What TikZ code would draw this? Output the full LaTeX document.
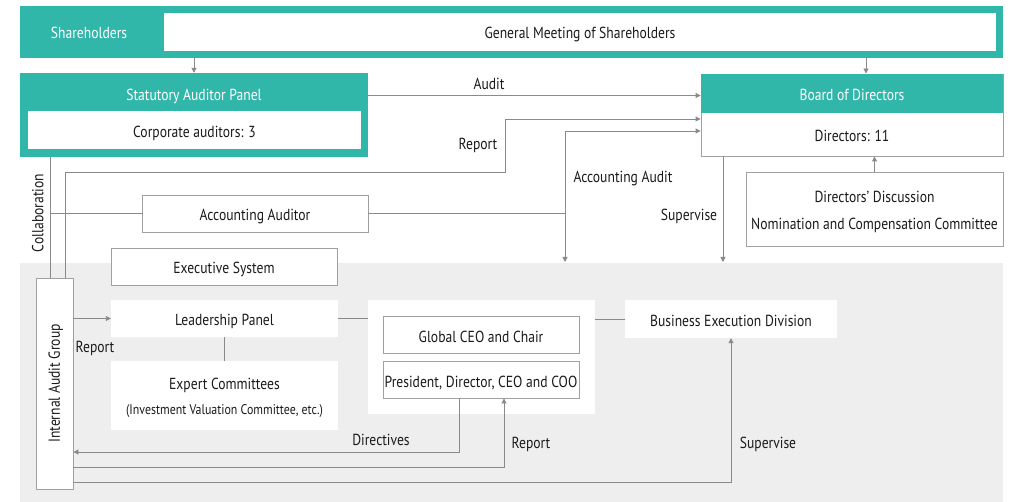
\documentclass[tikz,border=0pt]{standalone}
\usepackage{fontspec}
\setmainfont{PT Sans}[FakeStretch=0.85]
\usetikzlibrary{arrows.meta,calc}
\definecolor{teal1}{HTML}{31B7AA}
\definecolor{lgray}{HTML}{EEEEEE}
\definecolor{lcol}{HTML}{8A8A8A}
\definecolor{bcol}{HTML}{A0A0A0}
\definecolor{tcol}{HTML}{1A1A1A}
\begin{document}
\begin{tikzpicture}[x=1pt,y=-1pt,
  every node/.style={font=\fontsize{16}{18}\selectfont, text=tcol, text height=10.5pt, text depth=0pt},
  tealbox/.style={fill=teal1, draw=none, inner sep=0pt},
  wbox/.style={fill=white, draw=none, inner sep=0pt, align=center, text height=15pt},
  gbox/.style={fill=white, draw=bcol, line width=0.9pt, inner sep=0pt, align=center, text height=15pt},
  conn/.style={draw=lcol, line width=0.9pt},
  arr/.style={conn, -{Triangle[length=5pt,width=5pt]}},
  arrb/.style={conn, {Triangle[length=5pt,width=5pt]}-{Triangle[length=5pt,width=5pt]}},
  lbl/.style={inner sep=0pt},
  wlbl/.style={inner sep=0pt, text=white}
]
\useasboundingbox (0,0) rectangle (1011,502);
\fill[white] (0,0) rectangle (1011,502);
% grey background region
\fill[lgray] (20,263) rectangle (1003,502);

% top band
\node[tealbox, minimum width=983pt, minimum height=52pt] (shband) at (511.5,32) {};
\node[wlbl] (shtxt) at (89,33.5) {Shareholders};
\node[wbox, minimum width=832pt, minimum height=38pt, text height=12.5pt] (gms) at (580,32) {General Meeting of Shareholders};

% statutory auditor panel
\node[tealbox, minimum width=348pt, minimum height=84pt] (sap) at (194,115) {};
\node[wlbl] (saptxt) at (194,95.5) {Statutory Auditor Panel};
\node[wbox, minimum width=333pt, minimum height=38pt] (corp) at (194.5,130) {Corporate auditors: 3};

% board of directors
\node[gbox, minimum width=302pt, minimum height=82pt] (bod) at (852,115) {};
\node[tealbox, minimum width=302pt, minimum height=39pt] (bodhead) at (852,93.5) {};
\node[wlbl] (bodtxt) at (852,95.5) {Board of Directors};
\node[lbl] (dirtxt) at (852,136.5) {Directors: 11};

% directors discussion
\node[gbox, minimum width=257pt, minimum height=74pt] (dd) at (874.5,209) {};
\node[lbl] (ddtxt1) at (874.5,197.5) {Directors' Discussion};
\node[lbl] (ddtxt2) at (874.5,224.5) {Nomination and Compensation Committee};

% accounting auditor
\node[gbox, minimum width=226pt, minimum height=37pt] (acc) at (255,213.5) {Accounting Auditor};

% executive system
\node[gbox, minimum width=226pt, minimum height=37pt] (exe) at (224,266.5) {Executive System};

% internal audit group
\node[gbox, minimum width=37pt, minimum height=211pt] (iag) at (54.5,383.5) {};
\node[lbl, rotate=90] (iagtxt) at (54.5,383.5) {Internal Audit Group};

% leadership and expert
\node[wbox, minimum width=227pt, minimum height=37pt] (lead) at (224.5,318.5) {Leadership Panel};
\node[wbox, minimum width=227pt, minimum height=69pt] (exp) at (224.5,395.5) {};
\node[lbl] (exptxt1) at (224.5,384) {Expert Committees};
\node[lbl, font=\fontsize{14}{16}\selectfont, text height=9.5pt] (exptxt2) at (224.5,409.5) {(Investment Valuation Committee, etc.)};

% CEO group
\node[wbox, minimum width=227pt, minimum height=114pt] (ceo) at (481.5,357) {};
\node[gbox, minimum width=196pt, minimum height=37pt] (gceo) at (481,334.5) {Global CEO and Chair};
\node[gbox, minimum width=196pt, minimum height=37pt] (pres) at (481,379.5) {President, Director, CEO and COO};

% business execution
\node[wbox, minimum width=212pt, minimum height=38pt] (bus) at (731,319) {Business Execution Division};

% helper coordinates
\coordinate (col) at (50,0);
\coordinate (rbend) at (505,172);
\coordinate (aa) at (565,262);
\coordinate (sv) at (723,262);
\coordinate (d1) at (459,452);
\coordinate (r2) at (504,467);
\coordinate (s2) at (731,482);

% connectors
\draw[arr] (sap.north |- shband.south) -- (sap.north);
\draw[arr] ([xshift=14pt]bod.north |- shband.south) -- ([xshift=14pt]bod.north);
\draw[arr] (sap.east |- saptxt) -- (bod.west |- saptxt);
\draw[arr] ([xshift=10.5pt]iag.north) |- (rbend) |- ([yshift=-4pt]bod.west);
\draw[arrb] (aa) |- ([yshift=-16pt]bod.west);
\draw[conn] (acc.east) -- (acc.east -| aa);
\draw[conn] (sap.south -| col) -- (iag.north -| col);
\draw[conn] (acc.west) -- (acc.west -| col);
\draw[arr] (bod.south -| sv) -- (sv);
\draw[arr] (dd.north) -- (dd.north |- bod.south);
\draw[arr] (iag.east |- lead.west) -- (lead.west);
\draw[conn] (lead.south) -- (exp.north);
\draw[conn] (lead.east) -- (lead.east -| ceo.west);
\draw[conn] (ceo.east |- bus.west) -- (bus.west);
\draw[arr] (pres.south -| d1) |- (iag.east |- d1);
\draw[arr] (iag.east |- r2) -| (pres.south -| r2);
\draw[arr] (iag.east |- s2) -| (bus.south);

% labels
\node[lbl] (laudit) at (489,84) {Audit};
\node[lbl] (lrep1) at (478,144) {Report};
\node[lbl] (lacca) at (623,177) {Accounting Audit};
\node[lbl] (lsup1) at (689,215) {Supervise};
\node[lbl, rotate=90] (lcol) at (38,213) {Collaboration};
\node[lbl] (lrep2) at (95,347) {Report};
\node[lbl] (ldir) at (381,440) {Directives};
\node[lbl] (lrep3) at (531,443) {Report};
\node[lbl] (lsup2) at (768,443) {Supervise};
\end{tikzpicture}
\end{document}
